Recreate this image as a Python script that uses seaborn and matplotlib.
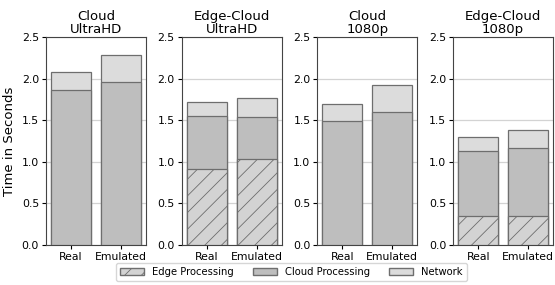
import pandas as pd
import matplotlib
matplotlib.use("Agg")
import matplotlib.pyplot as plt
import matplotlib.patches as mpatches
import seaborn as sns

# Colors
EDGE_COLOR = "#d3d3d3"
CLOUD_COLOR = "#bebebe"
NET_COLOR = "#dcdcdc"
LINE_COLOR = "#6e6e6e"

plt.rcParams["hatch.linewidth"] = 0.6
plt.rcParams["hatch.color"] = "#6e6e6e"

# ----------------------------------------------------------------------
# DATA (seconds)
# ----------------------------------------------------------------------
titles = ["Cloud\nUltraHD", "Edge-Cloud\nUltraHD", "Cloud\n1080p", "Edge-Cloud\n1080p"]
modes = ["Real", "Emulated"]

edge_proc = [[0.0, 0.0], [0.91, 1.03], [0.0, 0.0], [0.35, 0.345]]
cloud_proc = [[1.865, 1.955], [0.64, 0.51], [1.485, 1.595], [0.78, 0.815]]
network = [[0.22, 0.33], [0.165, 0.23], [0.215, 0.325], [0.17, 0.22]]

fig, axes = plt.subplots(1, 4, figsize=(5.55, 2.85), dpi=100)
fig.subplots_adjust(left=46 / 555, right=553 / 555, top=1 - 37 / 285,
                    bottom=1 - 245 / 285, wspace=0.36)

for i, ax in enumerate(axes):
    df = pd.DataFrame({
        "mode": modes,
        "edge": edge_proc[i],
        "cloud": cloud_proc[i],
        "net": network[i],
    })
    df["cloud_top"] = df["edge"] + df["cloud"]
    df["total"] = df["cloud_top"] + df["net"]

    # stacked bars drawn as overlapping cumulative bars
    sns.barplot(data=df, x="mode", y="total", ax=ax, color=NET_COLOR,
                edgecolor=LINE_COLOR, linewidth=0.9, saturation=1, zorder=2)
    sns.barplot(data=df, x="mode", y="cloud_top", ax=ax, color=CLOUD_COLOR,
                edgecolor=LINE_COLOR, linewidth=0.9, saturation=1, zorder=3)
    if df["edge"].sum() > 0:
        sns.barplot(data=df, x="mode", y="edge", ax=ax, color=EDGE_COLOR,
                    edgecolor=LINE_COLOR, linewidth=0.9, saturation=1,
                    hatch="//", zorder=4)

    ax.set_ylim(0, 2.5)
    ax.set_yticks([0, 0.5, 1.0, 1.5, 2.0, 2.5])
    ax.yaxis.grid(True, color="#d3d3d3", linewidth=0.9, zorder=0)
    ax.set_axisbelow(True)
    ax.set_title(titles[i], fontsize=9.5, linespacing=1.0, pad=3)
    ax.set_xlabel("")
    ax.set_ylabel("")
    ax.tick_params(labelsize=7.8, length=3, pad=2)
    for s in ax.spines.values():
        s.set_color("#444444")
        s.set_linewidth(0.8)

axes[0].set_ylabel("Time in Seconds", fontsize=9.5)

handles = [
    mpatches.Patch(facecolor=EDGE_COLOR, edgecolor=LINE_COLOR, hatch="//", label="Edge Processing"),
    mpatches.Patch(facecolor=CLOUD_COLOR, edgecolor=LINE_COLOR, label="Cloud Processing"),
    mpatches.Patch(facecolor=NET_COLOR, edgecolor=LINE_COLOR, label="Network"),
]
fig.legend(handles=handles, loc="center", bbox_to_anchor=(0.525, 0.045), ncol=3,
           fontsize=7.2, frameon=True, handlelength=2.4, handleheight=0.6,
           columnspacing=1.9, borderpad=0.4)

plt.savefig("out.png", dpi=100)
plt.close()
